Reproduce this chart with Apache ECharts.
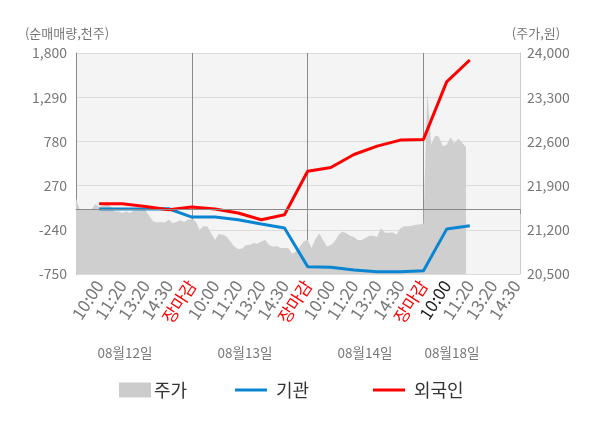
<!DOCTYPE html>
<html>
<head>
<meta charset="utf-8">
<script src="https://cdn.jsdelivr.net/npm/echarts/dist/echarts.min.js"></script>
<style>
  html, body { margin: 0; padding: 0; background: #fff; }
  #chart { width: 600px; height: 428px; }
</style>
</head>
<body>
<div id="chart"></div>
<script>
// x축 라벨 (하루 5칸, 마지막 날은 14:30 까지)
const slotLabels = [
  '10:00', '11:20', '13:20', '14:30', '장마감',
  '10:00', '11:20', '13:20', '14:30', '장마감',
  '10:00', '11:20', '13:20', '14:30', '장마감',
  '10:00', '11:20', '13:20', '14:30'
]
const dateLabels = ['08월12일', '08월13일', '08월14일', '08월18일']

// 주가 (원)
const priceValues = [
  21700, 21510, 21530, 21530, 21530, 21610, 21560, 21580, 21600, 21570,
  21490, 21490, 21465, 21490, 21465, 21505, 21505, 21530, 21505, 21420,
  21330, 21315, 21325, 21315, 21360, 21305, 21325, 21350, 21325, 21360,
  21370, 21330, 21200, 21255, 21255, 21145, 21040, 21135, 21120, 21095,
  21015, 20935, 20895, 20900, 20960, 20960, 20990, 20980, 21015, 21040,
  20960, 20935, 20945, 20910, 20910, 20910, 20820, 20855, 20935, 21015,
  21040, 20910, 21050, 21145, 21040, 20935, 20960, 21015, 21120, 21175,
  21145, 21105, 21085, 21040, 21040, 21070, 21105, 21105, 21085, 21225,
  21155, 21155, 21160, 21120, 21225, 21255, 21255, 21265, 21280, 21285,
  21300, 23385, 22550, 22695, 22675, 22525, 22545, 22660, 22570, 22645,
  22580, 22510
]

// 순매매량 누적 (천주), 라벨 칸마다 한 점
const instValues = [0, 0, 0, 3, -93, -93, -124, -174, -220, -665, -672, -704, -723, -723, -712, -232, -194]
const foreignValues = [61, 61, 30, -8, 23, 0, -46, -124, -66, 436, 479, 629, 725, 795, 803, 1467, 1719]

const SUB = 6 // 라벨 한 칸당 분봉 점 수
const categories = []
for (let i = 0; i < slotLabels.length * SUB + 2; i++) {
  categories.push(i > 0 && i % SUB === 0 && i / SUB <= slotLabels.length ? slotLabels[i / SUB - 1] : '')
}

function toSlotSeries(values) {
  const arr = categories.map(() => null)
  values.forEach((v, k) => { arr[(k + 1) * SUB] = v })
  return arr
}

const FONT = 'Noto Sans CJK KR'
const chart = echarts.init(document.getElementById('chart'))

const isLabelIdx = (index) => index > 0 && index % SUB === 0 && index / SUB <= slotLabels.length
const isDayEdge = (index) => index === 30 || index === 60 || index === 90

const option = {
  animation: false,
  textStyle: { fontFamily: FONT },
  grid: {
    left: 76, right: 80, top: 53, bottom: 154,
    show: true, backgroundColor: '#f4f4f4', borderWidth: 0
  },
  legend: [
    {
      data: ['주가'], left: 114, top: 376, icon: 'rect',
      itemWidth: 32, itemHeight: 15,
      textStyle: { fontSize: 18, color: '#333', fontFamily: FONT, padding: [0, 0, 0, -2] }
    },
    {
      data: ['기관'], left: 230, top: 376, icon: 'rect',
      itemWidth: 32, itemHeight: 3,
      textStyle: { fontSize: 18, color: '#333', fontFamily: FONT, padding: [0, 0, 0, 4] }
    },
    {
      data: ['외국인'], left: 368, top: 376, icon: 'rect',
      itemWidth: 32, itemHeight: 3,
      textStyle: { fontSize: 18, color: '#333', fontFamily: FONT, padding: [0, 0, 0, 4] }
    }
  ],
  graphic: [
    { type: 'text', x: 67, y: 33, style: { text: '(순매매량,천주)', align: 'center', verticalAlign: 'middle', fontSize: 13, fontFamily: FONT, fill: '#777' } },
    { type: 'text', x: 536, y: 33, style: { text: '(주가,원)', align: 'center', verticalAlign: 'middle', fontSize: 13, fontFamily: FONT, fill: '#777' } },
    { type: 'text', x: 125, y: 353, style: { text: dateLabels[0], align: 'center', verticalAlign: 'middle', fontSize: 13.5, fontFamily: FONT, fill: '#777' } },
    { type: 'text', x: 245, y: 353, style: { text: dateLabels[1], align: 'center', verticalAlign: 'middle', fontSize: 13.5, fontFamily: FONT, fill: '#777' } },
    { type: 'text', x: 365, y: 353, style: { text: dateLabels[2], align: 'center', verticalAlign: 'middle', fontSize: 13.5, fontFamily: FONT, fill: '#777' } },
    { type: 'text', x: 452, y: 353, style: { text: dateLabels[3], align: 'center', verticalAlign: 'middle', fontSize: 13.5, fontFamily: FONT, fill: '#777' } }
  ],
  xAxis: {
    type: 'category',
    boundaryGap: false,
    data: categories,
    axisLine: { lineStyle: { color: '#999' } },
    axisTick: {
      show: true,
      length: 5,
      interval: (index) => index % 30 === 0 || index === categories.length - 1,
      lineStyle: { color: '#999' }
    },
    splitLine: {
      show: true,
      interval: (index) => isDayEdge(index),
      lineStyle: { color: '#8a8a8a', width: 1 }
    },
    axisLabel: {
      interval: (index) => isLabelIdx(index),
      rotate: 57,
      margin: 8,
      fontSize: 17,
      color: '#777',
      formatter: (value, index) => {
        if (value === '장마감') return '{red|장마감}'
        if (index === 96) return '{dark|' + value + '}'
        return value
      },
      rich: {
        red: { color: '#ff0000', fontSize: 17, fontFamily: FONT },
        dark: { color: '#222', fontSize: 17, fontFamily: FONT }
      }
    }
  },
  yAxis: [
    {
      type: 'value',
      position: 'left',
      min: -750, max: 1800, interval: 510,
      axisLine: { show: true, lineStyle: { color: '#888' } },
      axisTick: { show: false },
      axisLabel: { color: '#777', fontSize: 14, margin: 9 },
      splitLine: { lineStyle: { color: '#dcdcdc' } }
    },
    {
      type: 'value',
      position: 'right',
      min: 20500, max: 24000, interval: 700,
      axisLine: { show: true, lineStyle: { color: '#ccc' } },
      axisTick: { show: false },
      axisLabel: { color: '#777', fontSize: 14, margin: 7 },
      splitLine: { show: false }
    }
  ],
  series: [
    {
      name: '주가',
      type: 'line',
      yAxisIndex: 1,
      data: priceValues,
      symbol: 'none',
      silent: true,
      color: '#cccccc',
      lineStyle: { width: 0 },
      areaStyle: { color: '#cfcfcf', opacity: 1, origin: 'start' },
      z: 1
    },
    {
      name: '기관',
      type: 'line',
      yAxisIndex: 0,
      data: toSlotSeries(instValues),
      connectNulls: true,
      symbol: 'none',
      color: '#0a85d2',
      lineStyle: { color: '#0a85d2', width: 3 },
      markLine: {
        silent: true,
        symbol: 'none',
        label: { show: false },
        lineStyle: { color: '#8a8a8a', width: 1, type: 'solid' },
        data: [{ yAxis: 0 }]
      },
      z: 3
    },
    {
      name: '외국인',
      type: 'line',
      yAxisIndex: 0,
      data: toSlotSeries(foreignValues),
      connectNulls: true,
      symbol: 'none',
      color: '#ff0000',
      lineStyle: { color: '#ff0000', width: 3 },
      z: 4
    }
  ]
}

chart.setOption(option)
</script>
</body>
</html>
